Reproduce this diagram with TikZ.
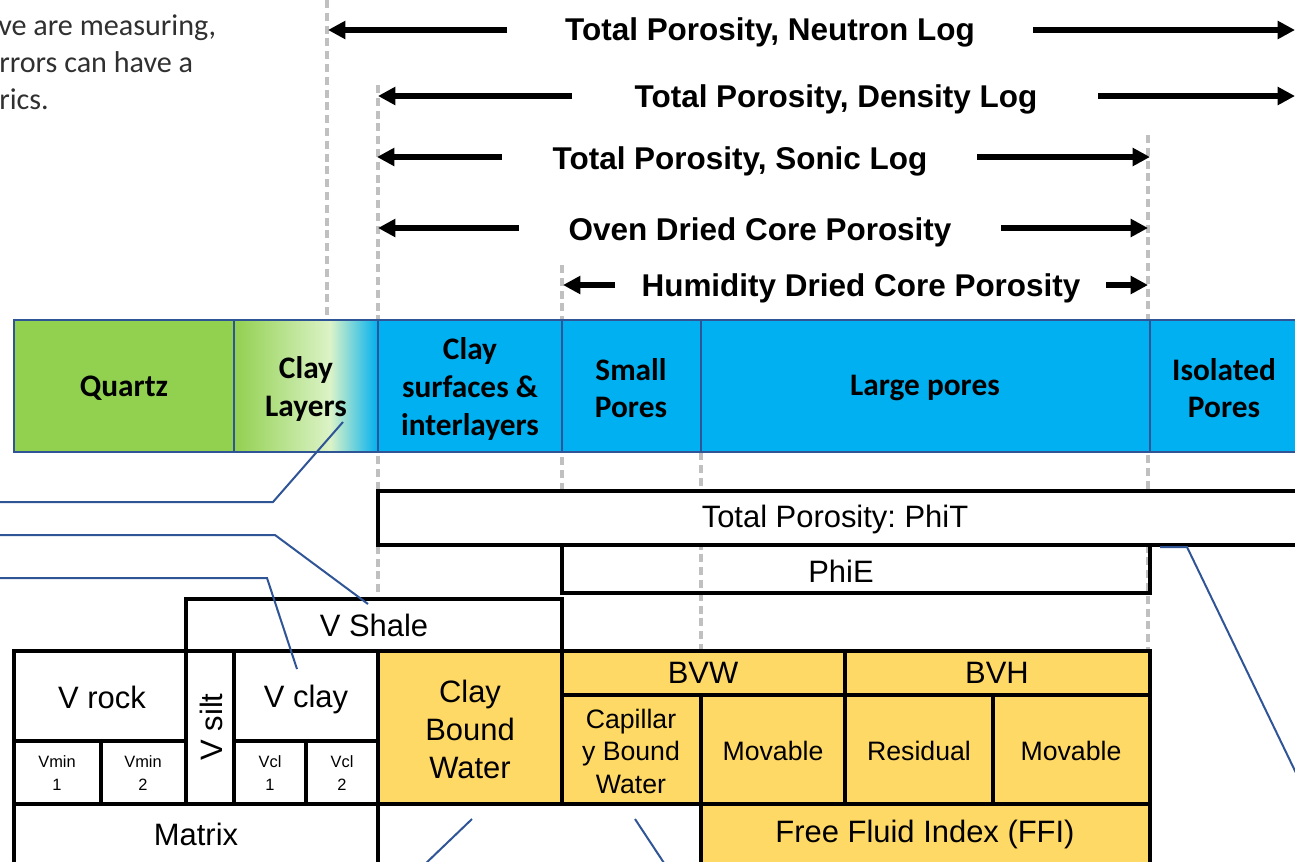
\documentclass[tikz,border=0pt]{standalone}
\usepackage{fontspec}
\setmainfont{Liberation Sans}
\newfontfamily\calfont{Carlito}
\usetikzlibrary{arrows.meta}
\definecolor{qgreen}{HTML}{92D050}
\definecolor{pblue}{HTML}{00B0F0}
\definecolor{lgreen}{HTML}{DCF3C8}
\definecolor{edgeblue}{HTML}{2F5597}
\definecolor{fyellow}{HTML}{FFD966}
\definecolor{dgray}{HTML}{C0C0C0}
\definecolor{txtgray}{HTML}{303030}
\frenchspacing
\begin{document}
\begin{tikzpicture}[x=0.75pt,y=-0.75pt,
  guide/.style={dgray, line width=2.8pt, dash pattern=on 6pt off 3.6pt},
  bigarrow/.style={line width=4.6pt, -{Triangle[length=13pt,width=13pt]}},
  title/.style={anchor=base, inner sep=0pt, font=\bfseries\fontsize{23.6}{28}\selectfont},
  bandcell/.style={draw=edgeblue, line width=1.5pt},
  bandtxt/.style={align=center, inner sep=0pt, font=\calfont\bfseries\fontsize{23.5}{28.2}\selectfont},
  cell/.style={draw=black, line width=3pt},
  ycell/.style={cell, fill=fyellow},
  bigtxt/.style={align=center, inner sep=0pt, font=\fontsize{23.2}{28.5}\selectfont},
  midtxt/.style={align=center, inner sep=0pt, font=\fontsize{20}{24.4}\selectfont},
  smalltxt/.style={align=center, inner sep=0pt, font=\fontsize{12.3}{17}\selectfont},
  callout/.style={draw=edgeblue, line width=1.5pt},
  note/.style={anchor=base west, inner sep=0pt, text=txtgray, font=\calfont\fontsize{22.6}{27}\selectfont}]
\useasboundingbox (0,0) rectangle (1295,861);
\clip (0,0) rectangle (1295,861);

% note text
\node[note] (n1) at (-2,35) {ve are measuring,};
\node[note] (n2) at (-1,72) {rrors can have a};
\node[note] (n3) at (-1,109) {rics.};

% guide lines
\coordinate (g1t) at (327,0);   \coordinate (g1b) at (327,318);
\coordinate (g2t) at (378,85);  \coordinate (g2b) at (378,598);
\coordinate (g3t) at (562,265); \coordinate (g3b) at (562,650);
\coordinate (g4t) at (701,452); \coordinate (g4b) at (701,650);
\coordinate (g5t) at (1148,135);\coordinate (g5b) at (1148,650);
\draw[guide] (g1t) -- (g1b);
\draw[guide] (g2t) -- (g2b);
\draw[guide] (g3t) -- (g3b);
\draw[guide] (g4t) -- (g4b);
\draw[guide] (g5t) -- (g5b);

% titles and arrows
\node[title] (t1) at (770,40) {Total Porosity, Neutron Log};
\node[title] (t2) at (836,107) {Total Porosity, Density Log};
\node[title] (t3) at (740,169) {Total Porosity, Sonic Log};
\node[title] (t4) at (760,240) {Oven Dried Core Porosity};
\node[title] (t5) at (861,296) {Humidity Dried Core Porosity};

\coordinate (a1l) at (507,30);  \coordinate (a1le) at (328,30);
\coordinate (a1r) at (1033,30); \coordinate (a1re) at (1295,30);
\coordinate (a2l) at (572,96);  \coordinate (a2le) at (378,96);
\coordinate (a2r) at (1098,96); \coordinate (a2re) at (1295,96);
\coordinate (a3l) at (502,157); \coordinate (a3le) at (377,157);
\coordinate (a3r) at (977,157); \coordinate (a3re) at (1150,157);
\coordinate (a4l) at (519,228); \coordinate (a4le) at (378,228);
\coordinate (a4r) at (1001,228);\coordinate (a4re) at (1148,228);
\coordinate (a5l) at (615,285); \coordinate (a5le) at (563,285);
\coordinate (a5r) at (1106,285);\coordinate (a5re) at (1148,285);
\draw[bigarrow] (a1l) -- (a1le);
\draw[bigarrow] (a1r) -- (a1re);
\draw[bigarrow] (a2l) -- (a2le);
\draw[bigarrow] (a2r) -- (a2re);
\draw[bigarrow] (a3l) -- (a3le);
\draw[bigarrow] (a3r) -- (a3re);
\draw[bigarrow] (a4l) -- (a4le);
\draw[bigarrow] (a4r) -- (a4re);
\draw[bigarrow] (a5l) -- (a5le);
\draw[bigarrow] (a5r) -- (a5re);

% band
\fill[qgreen] (14,320) rectangle (234,452);
\shade[left color=qgreen, right color=lgreen] (234,320) rectangle (331,452);
\shade[left color=lgreen, right color=pblue] (330,320) rectangle (378,452);
\fill[pblue] (378,320) rectangle (1310,452);
\draw[bandcell] (14,320) rectangle (234,452);
\draw[bandcell] (234,320) rectangle (378,452);
\draw[bandcell] (378,320) rectangle (562,452);
\draw[bandcell] (562,320) rectangle (701,452);
\draw[bandcell] (701,320) rectangle (1150,452);
\draw[bandcell] (1150,320) rectangle (1310,452);
\node[bandtxt] (quartz) at (124,388) {Quartz};
\node[bandtxt] (claylay) at (306,389) {Clay\\Layers};
\node[bandtxt] (claysurf) at (470,389) {Clay\\surfaces \&\\interlayers};
\node[bandtxt] (small) at (631,388) {Small\\Pores};
\node[bandtxt] (large) at (925,388) {Large pores};
\node[bandtxt] (isol) at (1224,388) {Isolated\\Pores};

% porosity boxes
\draw[cell, fill=white] (378,491) rectangle (1310,545);
\node[bigtxt] (phit) at (835,519) {Total Porosity: PhiT};
\draw[cell] (562,545) rectangle (1150,593);
\node[bigtxt] (phie) at (841,571) {PhiE};
\draw[cell, fill=white] (186,599) rectangle (562,651);
\node[bigtxt] (vshale) at (374,625) {V Shale};

% table
\draw[cell] (14,651) rectangle (186,741);
\node[bigtxt] (vrock) at (102,697) {V rock};
\draw[cell] (14,741) rectangle (101,804);
\node[smalltxt] (vmin1) at (57,773) {Vmin\\1};
\draw[cell] (101,741) rectangle (186,804);
\node[smalltxt] (vmin2) at (143,773) {Vmin\\2};
\draw[cell] (186,651) rectangle (234,804);
\node[bigtxt, rotate=90] (vsilt) at (211,727) {V silt};
\draw[cell] (234,651) rectangle (378,741);
\node[bigtxt] (vclay) at (306,699) {V clay};
\draw[cell] (234,741) rectangle (306,804);
\node[smalltxt] (vcl1) at (270,773) {Vcl\\1};
\draw[cell] (306,741) rectangle (378,804);
\node[smalltxt] (vcl2) at (342,773) {Vcl\\2};
\draw[cell] (14,804) rectangle (378,875);
\node[bigtxt] (matrix) at (196,834) {Matrix};

\draw[ycell] (378,651) rectangle (562,804);
\node[bigtxt] (cbw) at (470,729) {Clay\\Bound\\Water};
\draw[ycell] (562,651) rectangle (845,695);
\node[bigtxt] (bvw) at (703,673) {BVW};
\draw[ycell] (845,651) rectangle (1150,695);
\node[bigtxt] (bvh) at (997,673) {BVH};
\draw[ycell] (562,695) rectangle (701,804);
\node[midtxt] (capw) at (631,751) {Capillar\\y Bound\\Water};
\draw[ycell] (701,695) rectangle (845,804);
\node[midtxt] (mov1) at (773,751) {Movable};
\draw[ycell] (845,695) rectangle (993,804);
\node[midtxt] (resid) at (919,751) {Residual};
\draw[ycell] (993,695) rectangle (1150,804);
\node[midtxt] (mov2) at (1071,751) {Movable};
\draw[ycell] (701,804) rectangle (1150,875);
\node[bigtxt] (ffi) at (925,834) {Free Fluid Index (FFI)};

% callouts
\coordinate (c1s) at (0,502);   \coordinate (c1k) at (273,502);  \coordinate (c1e) at (343,422);
\coordinate (c2s) at (0,535);   \coordinate (c2k) at (275,535);  \coordinate (c2e) at (368,604);
\coordinate (c3s) at (0,578);   \coordinate (c3k) at (267,578);  \coordinate (c3e) at (297,669);
\coordinate (c4s) at (472,819); \coordinate (c4e) at (423,866);
\coordinate (c5s) at (635,819); \coordinate (c5e) at (666,866);
\coordinate (c6s) at (1160,547);\coordinate (c6k) at (1187,547); \coordinate (c6e) at (1297,775);
\draw[callout] (c1s) -- (c1k) -- (c1e);
\draw[callout] (c2s) -- (c2k) -- (c2e);
\draw[callout] (c3s) -- (c3k) -- (c3e);
\draw[callout] (c4s) -- (c4e);
\draw[callout] (c5s) -- (c5e);
\draw[callout] (c6s) -- (c6k) -- (c6e);
\end{tikzpicture}
\end{document}
